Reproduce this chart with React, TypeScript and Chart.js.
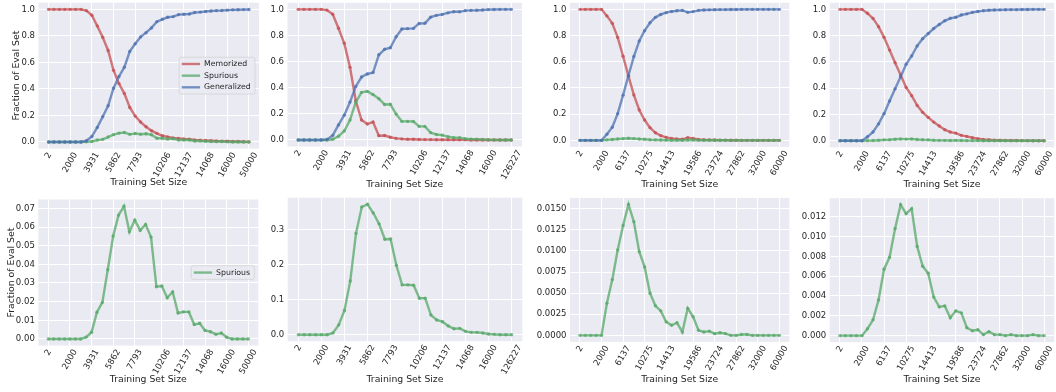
import React, { useEffect, useRef } from "react";
import { Chart, registerables } from "chart.js";
Chart.register(...registerables);

const FONT = "'DejaVu Sans', 'Liberation Sans', sans-serif";
const TEXT = "#262626";
const AX_BG = "#EAEAF2";
Chart.defaults.font.family = FONT;

// ---------- tick labels ----------
const xTickLabelsA = ["2", "2000", "3931", "5862", "7793", "10206", "12137", "14068", "16000", "50000"];
const xTickLabelsB = ["2", "2000", "3931", "5862", "7793", "10206", "12137", "14068", "16000", "126227"];
const xTickLabelsC = ["2", "2000", "6137", "10275", "14413", "19586", "23724", "27862", "32000", "60000"];
const yTicksFraction = [0, 0.2, 0.4, 0.6, 0.8, 1.0];
const yTicksSpurA = [0, 0.01, 0.02, 0.03, 0.04, 0.05, 0.06, 0.07];
const yTicksSpurB = [0, 0.1, 0.2, 0.3];
const yTicksSpurC = [0, 0.0025, 0.005, 0.0075, 0.01, 0.0125, 0.015];
const yTicksSpurD = [0, 0.002, 0.004, 0.006, 0.008, 0.01, 0.012];

// ---------- series (one value per training-set size, 38 sizes) ----------
const memorizedA = [1, 1, 1, 1, 1, 1, 1, 0.99, 0.955, 0.875, 0.79, 0.69, 0.54, 0.44, 0.365, 0.26, 0.195, 0.15, 0.115, 0.085, 0.065, 0.047, 0.038, 0.03, 0.026, 0.022, 0.02, 0.016, 0.013, 0.011, 0.009, 0.007, 0.006, 0.005, 0.004, 0.003, 0.002, 0.001];
const spuriousA = [0, 0, 0, 0, 0, 0, 0, 0.001, 0.0036, 0.0143, 0.0196, 0.0371, 0.0552, 0.0664, 0.0712, 0.0575, 0.0637, 0.0582, 0.0614, 0.0546, 0.028, 0.0284, 0.0221, 0.0252, 0.0139, 0.0145, 0.0145, 0.0077, 0.0084, 0.0046, 0.0039, 0.0025, 0.0032, 0.0009, 0, 0, 0, 0];
const generalizedA = [0, 0, 0, 0, 0, 0, 0, 0.009, 0.041, 0.11, 0.19, 0.273, 0.405, 0.494, 0.564, 0.683, 0.741, 0.792, 0.824, 0.86, 0.907, 0.925, 0.94, 0.945, 0.96, 0.963, 0.965, 0.976, 0.979, 0.984, 0.987, 0.99, 0.991, 0.994, 0.996, 0.997, 0.998, 0.999];

const memorizedB = [1, 1, 1, 1, 1, 0.994, 0.962, 0.855, 0.74, 0.556, 0.3, 0.153, 0.122, 0.137, 0.033, 0.034, 0.021, 0.012, 0.008, 0.006, 0.005, 0.004, 0.003, 0.003, 0.002, 0.002, 0.002, 0.001, 0.001, 0.001, 0, 0, 0, 0, 0, 0, 0, 0];
const spuriousB = [0, 0, 0, 0, 0, 0, 0.005, 0.028, 0.069, 0.153, 0.289, 0.364, 0.372, 0.347, 0.316, 0.272, 0.273, 0.198, 0.142, 0.142, 0.141, 0.104, 0.104, 0.056, 0.042, 0.037, 0.025, 0.017, 0.018, 0.0095, 0.0066, 0.0066, 0.0047, 0.002, 0.001, 0, 0, 0];
const generalizedB = [0, 0, 0, 0, 0, 0.004, 0.035, 0.115, 0.19, 0.29, 0.41, 0.482, 0.505, 0.516, 0.652, 0.694, 0.706, 0.79, 0.85, 0.852, 0.854, 0.892, 0.893, 0.94, 0.954, 0.961, 0.973, 0.982, 0.981, 0.99, 0.992, 0.993, 0.995, 0.998, 0.999, 1, 1, 1];

const memorizedC = [1, 1, 1, 1, 1, 0.95, 0.893, 0.786, 0.642, 0.49, 0.347, 0.232, 0.155, 0.097, 0.058, 0.036, 0.023, 0.015, 0.01, 0.008, 0.02, 0.015, 0.007, 0.005, 0.004, 0.003, 0.002, 0.002, 0.001, 0.001, 0, 0, 0, 0, 0, 0, 0, 0];
const spuriousC = [0, 0, 0, 0, 0, 0.0038, 0.0066, 0.0101, 0.013, 0.0155, 0.01346, 0.0099, 0.0081, 0.005, 0.0035, 0.0029, 0.0016, 0.0012, 0.0015, 0.0004, 0.0032, 0.0022, 0.0006, 0.0004, 0.0005, 0.0002, 0.0003, 0.0002, 0, 0, 0.0001, 0.0001, 0, 0, 0, 0, 0, 0];
const generalizedC = [0, 0, 0, 0, 0, 0.046, 0.1, 0.204, 0.345, 0.495, 0.64, 0.758, 0.837, 0.898, 0.939, 0.961, 0.975, 0.984, 0.989, 0.992, 0.977, 0.983, 0.992, 0.995, 0.996, 0.997, 0.998, 0.998, 0.999, 0.999, 1, 1, 1, 1, 1, 1, 1, 1];

const memorizedD = [1, 1, 1, 1, 1, 0.97, 0.931, 0.868, 0.787, 0.69, 0.594, 0.5, 0.406, 0.343, 0.269, 0.216, 0.178, 0.142, 0.112, 0.084, 0.066, 0.058, 0.041, 0.033, 0.023, 0.015, 0.01, 0.007, 0.005, 0.004, 0.003, 0.002, 0.002, 0.001, 0.001, 0, 0, 0];
const spuriousD = [0, 0, 0, 0, 0, 0.0007, 0.0016, 0.0036, 0.0067, 0.0079, 0.0108, 0.0132, 0.0123, 0.0128, 0.009, 0.007, 0.0063, 0.0039, 0.0029, 0.003, 0.0018, 0.0025, 0.0023, 0.0008, 0.0005, 0.0006, 0.0001, 0.0004, 0.0001, 0.0001, 0, 0.0001, 0, 0, 0, 0.0001, 0, 0];
const generalizedD = [0, 0, 0, 0, 0, 0.03, 0.067, 0.128, 0.206, 0.302, 0.395, 0.487, 0.582, 0.645, 0.722, 0.777, 0.816, 0.854, 0.885, 0.913, 0.932, 0.94, 0.957, 0.966, 0.977, 0.984, 0.99, 0.993, 0.995, 0.996, 0.997, 0.998, 0.998, 0.999, 0.999, 1, 1, 1];

// ---------- styles ----------
const RED = "rgba(196,78,82,0.75)";
const GREEN = "rgba(85,168,104,0.75)";
const BLUE = "rgba(76,114,176,0.75)";

type Series = { label: string; data: number[]; color: string };
type Spec = {
  series: Series[];
  xLabels: string[];
  yTicks: number[];
  decimals: number;
  yTitle: boolean;
  legend: boolean;
};

const triple = (m: number[], s: number[], g: number[]): Series[] => [
  { label: "Memorized", data: m, color: RED },
  { label: "Spurious", data: s, color: GREEN },
  { label: "Generalized", data: g, color: BLUE },
];

const SPECS: Spec[] = [
  { series: triple(memorizedA, spuriousA, generalizedA), xLabels: xTickLabelsA, yTicks: yTicksFraction, decimals: 1, yTitle: true, legend: true },
  { series: triple(memorizedB, spuriousB, generalizedB), xLabels: xTickLabelsB, yTicks: yTicksFraction, decimals: 1, yTitle: false, legend: false },
  { series: triple(memorizedC, spuriousC, generalizedC), xLabels: xTickLabelsC, yTicks: yTicksFraction, decimals: 1, yTitle: false, legend: false },
  { series: triple(memorizedD, spuriousD, generalizedD), xLabels: xTickLabelsC, yTicks: yTicksFraction, decimals: 1, yTitle: false, legend: false },
  { series: [{ label: "Spurious", data: spuriousA, color: GREEN }], xLabels: xTickLabelsA, yTicks: yTicksSpurA, decimals: 2, yTitle: true, legend: true },
  { series: [{ label: "Spurious", data: spuriousB, color: GREEN }], xLabels: xTickLabelsB, yTicks: yTicksSpurB, decimals: 1, yTitle: false, legend: false },
  { series: [{ label: "Spurious", data: spuriousC, color: GREEN }], xLabels: xTickLabelsC, yTicks: yTicksSpurC, decimals: 4, yTitle: false, legend: false },
  { series: [{ label: "Spurious", data: spuriousD, color: GREEN }], xLabels: xTickLabelsC, yTicks: yTicksSpurD, decimals: 3, yTitle: false, legend: false },
];

// ---------- layout (pixels) ----------
const COLS = [[0, 264], [264, 528], [528, 792], [792, 1056]];
const ROWS = [[0, 196], [196, 392]];
const BOXES = [
  { l: 38.5, r: 259, t: 2.7, b: 148.6, titleY: 183, yTitleX: 16.3 },
  { l: 287.5, r: 522, t: 2.8, b: 146.5, titleY: 185, yTitleX: 0 },
  { l: 570, r: 789.3, t: 2.8, b: 146.9, titleY: 184.5, yTitleX: 0 },
  { l: 829.7, r: 1055.3, t: 2.8, b: 147.3, titleY: 184.5, yTitleX: 0 },
  { l: 38.3, r: 258.3, t: 199.5, b: 345.6, titleY: 379.5, yTitleX: 11.7 },
  { l: 287.7, r: 522.3, t: 197.6, b: 341.2, titleY: 379.5, yTitleX: 0 },
  { l: 570, r: 789.3, t: 197.9, b: 341.9, titleY: 379.5, yTitleX: 0 },
  { l: 829.7, r: 1055.3, t: 198.2, b: 342.2, titleY: 379.5, yTitleX: 0 },
];
const TICK_SIZE = 8.5;
const LABEL_SIZE = 9.3;
const LEGEND_SIZE = 7.8;

function Panel({ index }: { index: number }) {
  const ref = useRef<HTMLCanvasElement | null>(null);
  const spec = SPECS[index];
  const col = COLS[index % 4];
  const row = ROWS[Math.floor(index / 4)];
  const box = BOXES[index];
  const W = col[1] - col[0];
  const H = row[1] - row[0];

  useEffect(() => {
    if (!ref.current) return;
    const n = spec.series[0].data.length;
    const xMargin = 0.05 * (n - 1);
    const tickIdx = spec.xLabels.map((_, k) => Math.round((k * (n - 1)) / (spec.xLabels.length - 1)));
    const all = spec.series.flatMap((s) => s.data);
    const lo = Math.min(...all);
    const hi = Math.max(...all);
    const span = hi - lo;
    const yMin = lo - 0.05 * span;
    const yMax = hi + 0.05 * span;
    const titleLH = LABEL_SIZE * 1.2;

    const decor = {
      id: "panelDecor",
      beforeDraw(chart: any) {
        const { ctx, chartArea: a } = chart;
        ctx.save();
        ctx.fillStyle = AX_BG;
        ctx.fillRect(a.left, a.top, a.right - a.left, a.bottom - a.top);
        ctx.restore();
      },
      afterDraw(chart: any) {
        const { ctx, chartArea: a } = chart;
        const xs = chart.scales.x;
        const ang = (60 * Math.PI) / 180;
        ctx.save();
        ctx.font = `${TICK_SIZE}px ${FONT}`;
        ctx.fillStyle = TEXT;
        ctx.textAlign = "center";
        ctx.textBaseline = "middle";
        spec.xLabels.forEach((label, k) => {
          const px = xs.getPixelForValue(tickIdx[k]);
          const w = ctx.measureText(label).width;
          const cap = 0.729 * TICK_SIZE;
          const hb = w * Math.sin(ang) + cap * Math.cos(ang);
          ctx.save();
          ctx.translate(px, a.bottom + 3 + hb / 2);
          ctx.rotate(-ang);
          ctx.fillText(label, 0, 0);
          ctx.restore();
        });
        ctx.restore();

        if (spec.legend) {
          ctx.save();
          ctx.font = `${LEGEND_SIZE}px ${FONT}`;
          const textH = LEGEND_SIZE * 1.2;
          const spacing = 2.3;
          const padY = 2.1;
          const padL = 2.6;
          const handle = 18.3;
          const gap = 4;
          const padR = 4.2;
          const maxW = Math.max(...spec.series.map((s) => ctx.measureText(s.label).width));
          const bw = padL + handle + gap + maxW + padR;
          const m = spec.series.length;
          const bh = m * textH + (m - 1) * spacing + 2 * padY;
          const bx = a.right - 4 - bw;
          const by = (a.top + a.bottom) / 2 - bh / 2;
          ctx.beginPath();
          ctx.roundRect(bx, by, bw, bh, 2);
          ctx.fillStyle = "rgba(234,234,242,0.8)";
          ctx.fill();
          ctx.strokeStyle = "rgba(204,204,204,0.8)";
          ctx.lineWidth = 0.8;
          ctx.stroke();
          spec.series.forEach((s, i) => {
            const cy = by + padY + textH / 2 + i * (textH + spacing);
            ctx.beginPath();
            ctx.moveTo(bx + padL, cy);
            ctx.lineTo(bx + padL + handle, cy);
            ctx.strokeStyle = s.color;
            ctx.lineWidth = 2.4;
            ctx.stroke();
            ctx.fillStyle = TEXT;
            ctx.textAlign = "left";
            ctx.textBaseline = "middle";
            ctx.fillText(s.label, bx + padL + handle + gap, cy);
          });
          ctx.restore();
        }
      },
    };

    const chart = new Chart(ref.current, {
      type: "line",
      data: {
        datasets: spec.series.map((s, i) => ({
          label: s.label,
          data: s.data.map((y, k) => ({ x: k, y })),
          borderColor: s.color,
          backgroundColor: s.color,
          pointBackgroundColor: s.color,
          pointBorderWidth: 0,
          pointRadius: 1.7,
          pointHoverRadius: 0,
          borderWidth: 2.4,
          tension: 0,
          order: spec.series.length - i,
        })),
      },
      options: {
        animation: false,
        responsive: false,
        maintainAspectRatio: false,
        devicePixelRatio: 1,
        events: [],
        layout: { padding: { left: 0, bottom: 0, top: box.t - row[0], right: col[1] - box.r } },
        plugins: { legend: { display: false }, tooltip: { enabled: false } },
        scales: {
          x: {
            type: "linear",
            bounds: "data",
            min: -xMargin,
            max: n - 1 + xMargin,
            afterBuildTicks: (s: any) => {
              s.ticks = tickIdx.map((v) => ({ value: v }));
            },
            afterFit: (s: any) => {
              s.height = row[1] - box.b;
              s.paddingLeft = 0;
              s.paddingRight = 0;
            },
            ticks: { display: false },
            grid: { color: "#ffffff", lineWidth: 1, drawTicks: false },
            border: { display: false },
            title: {
              display: true,
              text: "Training Set Size",
              color: TEXT,
              font: { family: FONT, size: LABEL_SIZE },
              padding: { top: 0, bottom: row[1] - box.titleY - titleLH / 2 },
            },
          },
          y: {
            type: "linear",
            bounds: "data",
            min: yMin,
            max: yMax,
            afterBuildTicks: (s: any) => {
              s.ticks = spec.yTicks.map((v) => ({ value: v }));
            },
            afterFit: (s: any) => {
              s.width = box.l - col[0];
              s.paddingTop = 0;
              s.paddingBottom = 0;
            },
            ticks: {
              color: TEXT,
              font: { family: FONT, size: TICK_SIZE },
              padding: 3.5,
              callback: (v: any) => Number(v).toFixed(spec.decimals),
            },
            grid: { color: "#ffffff", lineWidth: 1, drawTicks: false },
            border: { display: false },
            title: {
              display: spec.yTitle,
              text: "Fraction of Eval Set",
              color: TEXT,
              font: { family: FONT, size: LABEL_SIZE },
              padding: { top: Math.max(0, box.yTitleX - col[0] - titleLH / 2), bottom: 0 },
            },
          },
        },
      },
      plugins: [decor],
    } as any);
    return () => chart.destroy();
  }, [index]);

  return (
    <canvas
      ref={ref}
      width={W}
      height={H}
      style={{ position: "absolute", left: col[0], top: row[0], width: W, height: H }}
    />
  );
}

export default function App() {
  return (
    <div style={{ position: "absolute", left: 0, top: 0, width: 1056, height: 392, background: "#ffffff", overflow: "hidden" }}>
      {SPECS.map((_, i) => (
        <Panel key={i} index={i} />
      ))}
    </div>
  );
}
